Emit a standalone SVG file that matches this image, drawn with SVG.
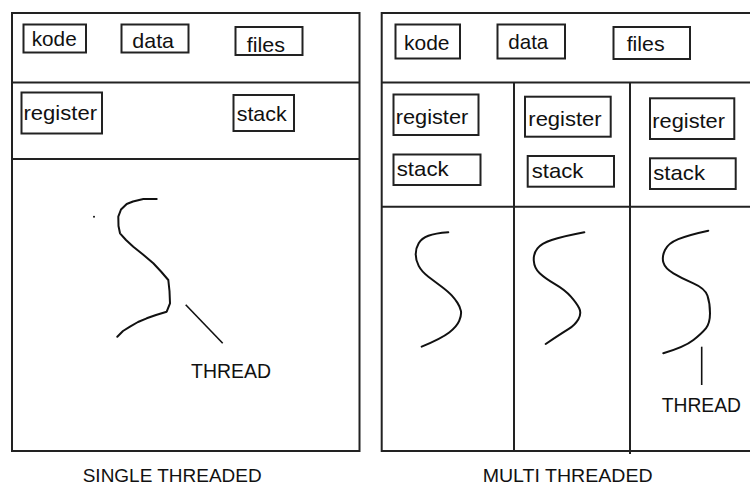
<svg xmlns="http://www.w3.org/2000/svg" width="750" height="485" viewBox="0 0 750 485">
<style>
.frame{fill:none;stroke:#222;stroke-width:2}
.box{fill:#fff;stroke:#222;stroke-width:2}
.lbl{font-family:"Liberation Sans",Arial,sans-serif;font-size:21px;fill:#111}
.cap{font-family:"Liberation Sans",Arial,sans-serif;font-size:19px;fill:#111}
.thr{fill:none;stroke:#111;stroke-width:2;stroke-linejoin:round;stroke-linecap:round}
.ptr{fill:none;stroke:#111;stroke-width:1.6}
</style>
<rect width="750" height="485" fill="#fff"/>

<g id="single-panel">
  <rect class="frame" x="12" y="13" width="347.5" height="438"/>
  <line class="frame" x1="12" y1="82.5" x2="359.5" y2="82.5"/>
  <line class="frame" x1="12" y1="159" x2="359.5" y2="159"/>
</g>
<g id="s-kode"><rect class="box" x="23.5" y="24.5" width="62.5" height="28"/><text class="lbl" x="31.7" y="45.7" textLength="45" lengthAdjust="spacingAndGlyphs">kode</text></g>
<g id="s-data"><rect class="box" x="121.5" y="24.5" width="67" height="28"/><text class="lbl" x="132.3" y="48.3" textLength="41.7" lengthAdjust="spacingAndGlyphs">data</text></g>
<g id="s-files"><rect class="box" x="235.5" y="27" width="67" height="28"/><text class="lbl" x="246.7" y="51.7" textLength="38.3" lengthAdjust="spacingAndGlyphs">files</text></g>
<g id="s-register"><rect class="box" x="21.5" y="92.5" width="80.5" height="41"/><text class="lbl" x="23.5" y="119.7" textLength="73.5" lengthAdjust="spacingAndGlyphs">register</text></g>
<g id="s-stack"><rect class="box" x="233.5" y="95" width="60.5" height="36"/><text class="lbl" x="236.7" y="120.7" textLength="50" lengthAdjust="spacingAndGlyphs">stack</text></g>
<g id="s-thread">
  <polyline class="thr" points="156.7,199 143.3,199 133,201.5 126.7,204 121,209.5 118.3,216.7 118.5,226 120,233.3 126,240 133.3,246.7 143,254.5 153.3,263.3 161,271.5 168.3,280 169.5,291 170,303.3 166.7,311.7 156,315 146.7,318.3 138,322 130,326.7 123,331 117.3,336.7"/>
  <circle cx="94" cy="216.7" r="1" fill="#111"/>
</g>
<g id="s-thread-label"><text class="lbl" x="191" y="377.7" textLength="80" lengthAdjust="spacingAndGlyphs">THREAD</text></g>
<g id="s-caption"><text class="cap" x="82.7" y="481.7" textLength="179" lengthAdjust="spacingAndGlyphs">SINGLE THREADED</text></g>

<g id="multi-panel">
  <polyline class="frame" points="752,13 381.7,13 381.7,451 752,451"/>
  <line class="frame" x1="381.7" y1="82.5" x2="752" y2="82.5"/>
  <line class="frame" x1="381.7" y1="206.7" x2="752" y2="206.7"/>
  <line class="frame" x1="514" y1="82.5" x2="514" y2="451"/>
  <line class="frame" x1="630" y1="82.5" x2="630" y2="454"/>
</g>
<g id="m-kode"><rect class="box" x="395.5" y="24.5" width="64.5" height="34"/><text class="lbl" x="404" y="49.5" textLength="45.5" lengthAdjust="spacingAndGlyphs">kode</text></g>
<g id="m-data"><rect class="box" x="497.5" y="24.5" width="67.5" height="34"/><text class="lbl" x="508.3" y="49" textLength="40" lengthAdjust="spacingAndGlyphs">data</text></g>
<g id="m-files"><rect class="box" x="613.5" y="27" width="76.5" height="32"/><text class="lbl" x="626.7" y="50.5" textLength="38" lengthAdjust="spacingAndGlyphs">files</text></g>
<g id="m-register-1"><rect class="box" x="393.5" y="94.5" width="85" height="40.5"/><text class="lbl" x="395.7" y="123.5" textLength="72.6" lengthAdjust="spacingAndGlyphs">register</text></g>
<g id="m-stack-1"><rect class="box" x="393.5" y="154.5" width="87" height="30.5"/><text class="lbl" x="396.7" y="175.5" textLength="52" lengthAdjust="spacingAndGlyphs">stack</text></g>
<g id="m-register-2"><rect class="box" x="525" y="96.7" width="85.7" height="40"/><text class="lbl" x="528.3" y="126" textLength="73.4" lengthAdjust="spacingAndGlyphs">register</text></g>
<g id="m-stack-2"><rect class="box" x="527.7" y="156" width="86.3" height="30.7"/><text class="lbl" x="531.7" y="177.5" textLength="51.6" lengthAdjust="spacingAndGlyphs">stack</text></g>
<g id="m-register-3"><rect class="box" x="650" y="98.3" width="84.3" height="40.7"/><text class="lbl" x="652.3" y="128.3" textLength="72.7" lengthAdjust="spacingAndGlyphs">register</text></g>
<g id="m-stack-3"><rect class="box" x="650" y="158.3" width="85.7" height="30.7"/><text class="lbl" x="653.3" y="180" textLength="51.7" lengthAdjust="spacingAndGlyphs">stack</text></g>
<g id="m-thread-1">
  <path class="thr" d="M448.3,232.3 Q435,233.3 428.4,235.8 Q421.7,238.3 418.7,243.3 Q415.7,248.3 415.7,254.2 Q415.7,260 418.7,265.9 Q421.7,271.7 428.4,276.7 Q435,281.7 441.7,286.7 Q448.3,291.7 451.7,295.4 Q455,299 457.5,302.9 Q460,306.7 460.9,310.9 Q461.7,315 459.2,320.9 Q456.7,326.7 449.2,332.5 Q441.7,338.3 421.7,346.7"/>
</g>
<g id="m-thread-2">
  <path class="thr" d="M584.3,232.3 Q561.7,236.7 551.7,240 Q541.7,243.3 537.5,248.3 Q533.3,253.3 533.8,260.8 Q534.3,268.3 539.7,273.3 Q545,278.3 555,284.2 Q565,290 570.9,296.7 Q576.7,303.3 579.2,308.3 Q581.7,313.3 578.4,319.2 Q575,325 568.4,329.2 Q561.7,333.3 545.7,344"/>
</g>
<g id="m-thread-3">
  <path class="thr" d="M708.3,230.7 Q688.3,235 678.3,239.2 Q668.3,243.3 665,250 Q661.7,256.7 663.4,262.5 Q665,268.3 673.4,273.3 Q681.7,278.3 693.4,283.3 Q705,288.3 707.5,295.8 Q710,303.3 710,313.3 Q710,323.3 705.9,328.3 Q701.7,333.3 693.4,340 Q685,346.7 663.3,353.3"/>
</g>
<g id="m-thread-label"><text class="lbl" x="661.7" y="411.7" textLength="79.3" lengthAdjust="spacingAndGlyphs">THREAD</text></g>
<g id="m-caption"><text class="cap" x="482.7" y="481.7" textLength="170" lengthAdjust="spacingAndGlyphs">MULTI THREADED</text></g>

<g id="connectors">
  <line class="ptr" x1="185.7" y1="304.7" x2="222.7" y2="343.3"/>
  <line class="ptr" x1="701.7" y1="346.7" x2="701.7" y2="385"/>
</g>
</svg>
